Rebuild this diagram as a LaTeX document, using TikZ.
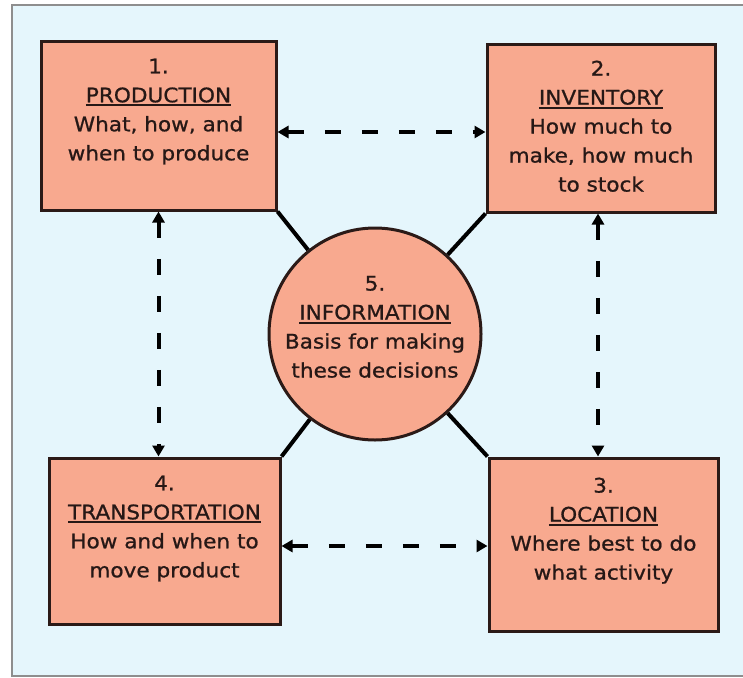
\documentclass[tikz,border=0pt]{standalone}
\usepackage{fontspec}
\setmainfont{DejaVu Sans}[FakeStretch=1.08, FakeBold=0.9]
\usetikzlibrary{positioning, arrows.meta}

\definecolor{boxfill}{HTML}{F8A98F}
\definecolor{boxline}{HTML}{2B1A17}
\definecolor{panel}{HTML}{E5F6FC}
\definecolor{panelline}{HTML}{8E8E8E}
\definecolor{ink}{HTML}{261816}

\newcommand{\uword}[1]{\setbox0\hbox{#1}\rlap{\rule[-4pt]{\wd0}{1.8pt}}\box0}

\begin{document}
\begin{tikzpicture}[x=1pt, y=-1pt,
        decision/.style={draw=boxline, fill=boxfill, line width=3pt, inner sep=0pt},
        boxtext/.style={align=center, inner sep=0pt, text=ink, font=\fontsize{20}{29}\selectfont},
        dasharrow/.style={{Triangle[length=11pt,width=12pt]}-{Triangle[length=11pt,width=12pt]},
            line width=4pt, dash pattern=on 16pt off 21pt, black},
        spoke/.style={line width=4pt, black}]
        \fill[white] (0,0) rectangle (743,677);
        \useasboundingbox (0,0) rectangle (743,677);
        \draw[panelline, fill=panel, line width=2pt] (12,5) rectangle (748,676);

        \node[decision, minimum width=235pt, minimum height=168pt] (prod)  at (158.5,126)   {};
        \node[decision, minimum width=228pt, minimum height=167pt] (inv)   at (601,128.5)   {};
        \node[decision, minimum width=229pt, minimum height=173pt] (loc)   at (603.5,544.5) {};
        \node[decision, minimum width=231pt, minimum height=166pt] (trans) at (164.5,541)   {};
        \node[decision, circle, minimum size=212pt]                (info)  at (375,334)     {};

        \node[boxtext, below=18pt of prod.north]  (prod text)  {1.\\\uword{PRODUCTION}\\What, how, and\\when to produce};
        \node[boxtext, below=17pt of inv.north]   (inv text)   {2.\\\uword{INVENTORY}\\How much to\\make, how much\\to stock};
        \node[boxtext, below=21pt of loc.north]   (loc text)   {3.\\\uword{LOCATION}\\Where best to do\\what activity};
        \node[boxtext, below=19pt of trans.north] (trans text) {4.\\\uword{TRANSPORTATION}\\How and when to\\move product};
        \node[boxtext, above=0pt of info.center, yshift=-44pt] (info text) {5.\\\uword{INFORMATION}\\Basis for making\\these decisions};

        \draw[spoke] (prod.south east)  -- (info);
        \draw[spoke] (inv.south west)   -- (info);
        \draw[spoke] (trans.north east) -- (info);
        \draw[spoke] (loc.north west)   -- (info);

        \draw[dasharrow] ([yshift=-6pt]prod.east) -- ([yshift=-6pt]prod.east -| inv.west);
        \draw[dasharrow] (prod.south) -- (prod.south |- trans.north);
        \draw[dasharrow] ([xshift=-3pt]inv.south) -- ([xshift=-3pt]inv.south |- loc.north);
        \draw[dasharrow] ([yshift=-5pt]trans.east) -- ([yshift=-5pt]trans.east -| loc.west);
    \end{tikzpicture}
\end{document}
